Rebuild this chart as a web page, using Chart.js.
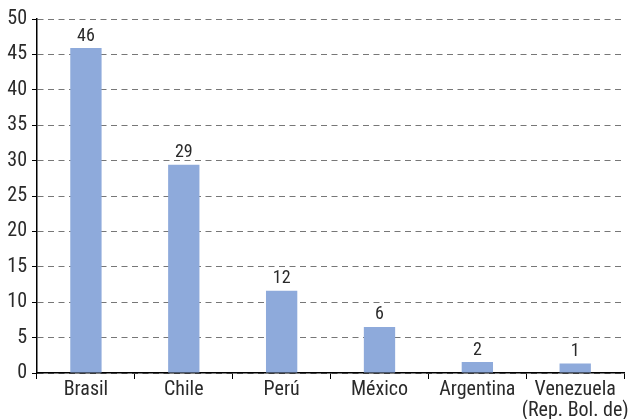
<!DOCTYPE html>
<html>
<head>
<meta charset="utf-8">
<script src="https://cdn.jsdelivr.net/npm/chart.js@4"></script>
<style>
  html, body { margin: 0; padding: 0; background: #fff; }
  #wrap { width: 629px; height: 419px; }
</style>
</head>
<body>
<div id="wrap"><canvas id="chart" width="629" height="419"></canvas></div>
<script>
// DATA
const countries = ["Brasil", "Chile", "Perú", "México", "Argentina", ["Venezuela", "(Rep. Bol. de)"]];
const values = [45.9, 29.4, 11.6, 6.5, 1.55, 1.35];
const valueLabels = ["46", "29", "12", "6", "2", "1"];
const yTicks = [0, 5, 10, 15, 20, 25, 30, 35, 40, 45, 50];

const FONT = "'Liberation Sans Narrow', 'Roboto Condensed', 'Roboto', sans-serif";

/* -------------------------
   VALUE LABELS ABOVE BARS
--------------------------*/
const barLabels = {
    id: "barLabels",
    afterDatasetsDraw(chart) {
        const ctx = chart.ctx;
        const meta = chart.getDatasetMeta(0);
        ctx.save();
        ctx.font = "18px " + FONT;
        ctx.fillStyle = "#2a2a2a";
        ctx.textAlign = "center";
        ctx.textBaseline = "bottom";
        meta.data.forEach((bar, i) => {
            ctx.fillText(valueLabels[i], bar.x, bar.y - 3);
        });
        ctx.restore();
    }
};

new Chart(document.getElementById("chart"), {
    type: "bar",
    data: {
        labels: countries,
        datasets: [{
            data: values,
            backgroundColor: "#8eaadb",
            borderWidth: 0,
            barPercentage: 0.32,
            categoryPercentage: 1
        }]
    },
    options: {
        responsive: false,
        animation: false,
        layout: { padding: { top: 19, right: 3, left: 0, bottom: 0 } },
        plugins: { legend: { display: false }, tooltip: { enabled: false } },
        scales: {
            x: {
                offset: true,
                grid: {
                    offset: true,
                    drawOnChartArea: false,
                    tickLength: 6,
                    tickColor: "#000"
                },
                border: { color: "#000", width: 1.5 },
                ticks: {
                    color: "#2a2a2a",
                    font: { family: FONT, size: 20, lineHeight: 1.05 },
                    padding: 0,
                    maxRotation: 0,
                    autoSkip: false
                },
                afterFit(scale) { scale.height = 46; }
            },
            y: {
                min: 0,
                max: 50,
                afterBuildTicks(scale) {
                    scale.ticks = yTicks.map(v => ({ value: v }));
                },
                grid: {
                    color: "#777",
                    lineWidth: 1,
                    tickLength: 5,
                    tickColor: "#000",
                    tickBorderDash: [],
                    drawTicks: true
                },
                border: { color: "#000", width: 1.5, dash: [6, 4.5] },
                ticks: {
                    color: "#2a2a2a",
                    font: { family: FONT, size: 20 },
                    padding: 5
                },
                afterFit(scale) { scale.width = 37; }
            }
        }
    },
    plugins: [barLabels]
});
</script>
</body>
</html>
